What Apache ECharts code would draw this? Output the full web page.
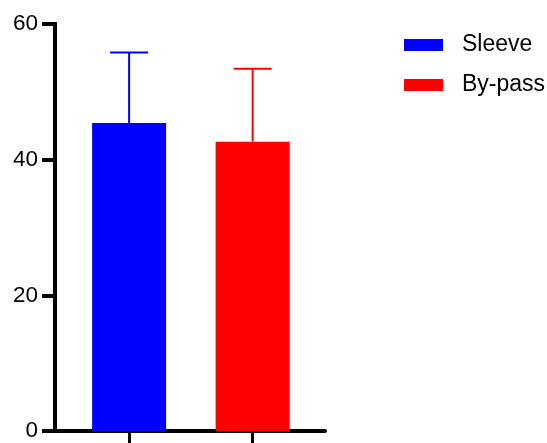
<!DOCTYPE html>
<html>
<head>
<meta charset="utf-8">
<script src="https://cdn.jsdelivr.net/npm/echarts@6/dist/echarts.min.js"></script>
<style>
html,body{margin:0;padding:0;background:#fff;}
#c{width:547px;height:443px;}
</style>
</head>
<body>
<div id="c"></div>
<script>
var groups = ['Sleeve', 'By-pass'];
var groupX = [1, 2];
var means = [45.4, 42.65];
var sds = [10.4, 10.75];
var colors = ['#0000ff', '#ff0000'];
var yTicks = [0, 20, 40, 60];

var chart = echarts.init(document.getElementById('c'));

var series = [];
groups.forEach(function (g, i) {
  series.push({
    name: g,
    type: 'bar',
    barWidth: 74,
    barGap: '-100%',
    itemStyle: { color: colors[i] },
    data: [[groupX[i], means[i]]],
    z: 2
  });
});
series.push({
  type: 'custom',
  name: 'err',
  z: 3,
  data: groups.map(function (g, i) { return [groupX[i], means[i], means[i] + sds[i], i]; }),
  renderItem: function (params, api) {
    var x = api.value(0);
    var lo = api.coord([x, api.value(1)]);
    var hi = api.coord([x, api.value(2)]);
    var c = colors[api.value(3)];
    var hw = 19;
    return {
      type: 'group',
      children: [
        { type: 'line', shape: { x1: lo[0], y1: lo[1], x2: hi[0], y2: hi[1] }, style: { stroke: c, lineWidth: 2 } },
        { type: 'line', shape: { x1: hi[0] - hw, y1: hi[1], x2: hi[0] + hw, y2: hi[1] }, style: { stroke: c, lineWidth: 2 } }
      ]
    };
  }
});

chart.setOption({
  animation: false,
  backgroundColor: '#fff',
  grid: { left: 55, right: 222, top: 24, bottom: 12, containLabel: false },
  legend: {
    data: groups,
    orient: 'vertical',
    left: 404,
    top: 33.5,
    padding: 0,
    itemGap: 17,
    itemWidth: 39,
    itemHeight: 12,
    icon: 'rect',
    textStyle: { fontFamily: 'Liberation Sans, Arial, sans-serif', fontSize: 23, color: '#000', padding: [0, 0, 0, 14] }
  },
  xAxis: {
    type: 'value',
    min: 0.4,
    max: 2.586,
    axisLine: { show: true, lineStyle: { color: '#000', width: 4 } },
    axisTick: { show: true, customValues: groupX, length: 13, lineStyle: { color: '#000', width: 3 } },
    axisLabel: { show: false, customValues: groupX },
    splitLine: { show: false }
  },
  yAxis: {
    type: 'value',
    min: 0,
    max: 60,
    interval: 20,
    axisLine: { show: true, lineStyle: { color: '#000', width: 4, cap: 'square' } },
    axisTick: { show: true, length: 13, lineStyle: { color: '#000', width: 4 } },
    axisLabel: { margin: 17, fontFamily: 'Liberation Sans, Arial, sans-serif', fontSize: 22.5, color: '#000' },
    splitLine: { show: false }
  },
  series: series
});
</script>
</body>
</html>
